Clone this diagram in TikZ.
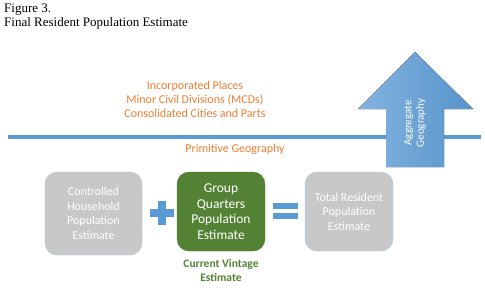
\documentclass[tikz,border=0pt]{standalone}
\usepackage{fontspec}
\setmainfont{Carlito}
\newfontfamily\titlefont{Liberation Serif}
\usetikzlibrary{positioning}

\definecolor{geoorange}{HTML}{ED7D31}
\definecolor{geoblue}{HTML}{5B9BD5}
\definecolor{boxgray}{HTML}{C8C8C8}
\definecolor{gqgreen}{HTML}{548235}

\begin{document}
\begin{tikzpicture}[
		x=1pt, y=-1pt,
		node distance=4pt,
		estbox/.style={
			rectangle,
			draw=geoblue!55,
			fill=boxgray,
			rounded corners=12pt,
			text=white,
			align=center,
			minimum width=88pt,
			minimum height=79pt,
			font=\fontsize{12}{14.5}\selectfont
		},
		gqbox/.style={
			estbox,
			draw=gqgreen,
			fill=gqgreen,
			font=\fontsize{13.5}{15.5}\selectfont
		},
		geolabel/.style={
			text=geoorange,
			align=center,
			inner sep=0pt,
			font=\fontsize{12}{14}\selectfont
		},
		opsign/.style={
			fill=geoblue
		}
		]
		
		\useasboundingbox (0,0) rectangle (485,298);
		
		\node[anchor=north west, align=left, inner sep=0pt,
		font=\titlefont\fontsize{13}{14}\selectfont] (title) at (4,4)
		{Figure 3.\\
			Final Resident Population Estimate};
		
		% aggregate places above the line
		\node[geolabel] (aggr) at (195,99)
		{Incorporated Places\\
			Minor Civil Divisions (MCDs)\\
			Consolidated Cities and Parts};
		
		\draw[geoblue, line width=3.5pt] (8,137) -- (481,137);
		
		\node[geolabel] (prim) at (235,149) {Primitive Geography};
		
		% big arrow
		\fill[left color=geoblue!75!white, right color=geoblue!95!black]
		(415,52) -- (358,109) -- (386,109) -- (386,167)
		-- (444,167) -- (444,109) -- (473,109) -- cycle;
		\node[rotate=90, text=white, align=center,
		font=\fontsize{11}{12.5}\selectfont] (aggrlabel) at (415,123)
		{Aggregate\\
			Geography};
		
		% estimate boxes
		\node[estbox, minimum width=97pt, minimum height=83pt] (household) at (93.5,213.5)
		{Controlled\\
			Household\\
			Population\\
			Estimate};
		
		\node[gqbox] (gq) at (221,211.5)
		{Group\\
			Quarters\\
			Population\\
			Estimate};
		
		\node[estbox] (total) at (349,211.5)
		{Total Resident\\
			Population\\
			Estimate};
		
		\node[below=5pt of gq, text=gqgreen, align=center,
		font=\bfseries\fontsize{11.5}{14}\selectfont] (vintage)
		{Current Vintage\\
			Estimate};
		
		% plus and equals
		\fill[opsign] (150,209) rectangle (174,217);
		\fill[opsign] (158,201) rectangle (166,225);
		\fill[opsign] (273,203) rectangle (298,209);
		\fill[opsign] (273,213) rectangle (298,219);
		
	\end{tikzpicture}
\end{document}
